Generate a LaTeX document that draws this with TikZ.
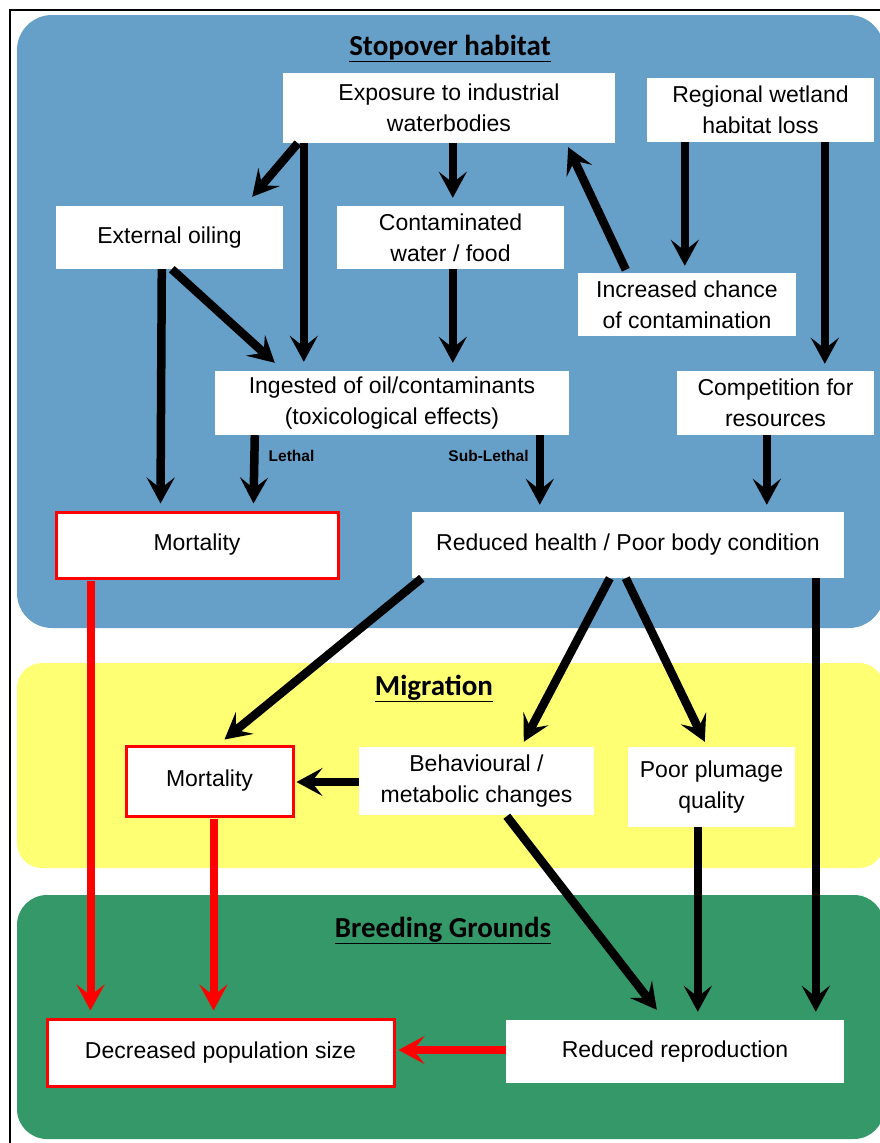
\documentclass[tikz,border=0pt]{standalone}
\usepackage{fontspec}
\setmainfont{Liberation Sans}
\newfontfamily\titlefont{Carlito}
\usetikzlibrary{arrows.meta,calc}
\definecolor{panelblue}{RGB}{102,160,200}
\definecolor{panelyellow}{RGB}{255,255,115}
\definecolor{panelgreen}{RGB}{52,152,104}
\begin{document}
\begin{tikzpicture}[x=1pt,y=-1pt,
  box/.style={fill=white,rectangle,inner sep=0pt,align=center,font=\fontsize{23}{31}\selectfont,text=black},
  redbox/.style={box,draw=red,line width=3pt},
  flow/.style={line width=8.5pt,-{Stealth[length=26pt,width=28pt,inset=11pt]}},
  redflow/.style={flow,line width=8pt,draw=red,color=red},
  lab/.style={font=\bfseries\fontsize{15.5}{18}\selectfont,inner sep=0pt},
  paneltitle/.style={font=\titlefont\bfseries\fontsize{29}{32}\selectfont,anchor=base,inner sep=0pt}]
\useasboundingbox (0,0) rectangle (879,1143);
% panels
\fill[panelblue,rounded corners=35pt] (17,15) rectangle (884,628);
\fill[panelyellow,rounded corners=25pt] (17,663) rectangle (884,868);
\fill[panelgreen,rounded corners=30pt] (17,895) rectangle (884,1139);
% frame
\draw[line width=2pt] (10,1150) -- (10,10) -- (885,10);
% titles
\node[paneltitle] (t1) at (450,55) {\underline{Stopover habitat}};
\node[paneltitle] (t2) at (434,695) {\underline{Migration}};
\node[paneltitle] (t3) at (443,937) {\underline{Breeding Grounds}};
% nodes
\node[box,minimum width=332pt,minimum height=70pt] (expo) at (449,108) {Exposure to industrial\\waterbodies};
\node[box,minimum width=227pt,minimum height=64pt] (regional) at (760.5,110) {Regional wetland\\habitat loss};
\node[box,minimum width=227pt,minimum height=63pt] (extoil) at (169.5,237.5) {External oiling};
\node[box,minimum width=227pt,minimum height=63pt] (contam) at (450.5,237.5) {Contaminated\\water / food};
\node[box,minimum width=218pt,minimum height=63pt] (incr) at (687,304.5) {Increased chance\\of contamination};
\node[box,minimum width=354pt,minimum height=64pt] (ingest) at (392,403) {Ingested of oil/contaminants\\(toxicological effects)};
\node[box,minimum width=197pt,minimum height=64pt] (compet) at (775.5,403) {Competition for\\resources};
\node[redbox,minimum width=282pt,minimum height=66pt] (mort1) at (197,545) {Mortality};
\node[box,minimum width=432pt,minimum height=66pt] (health) at (628,545) {Reduced health / Poor body condition};
\node[redbox,minimum width=167pt,minimum height=70pt] (mort2) at (209.5,781) {Mortality};
\node[box,minimum width=235pt,minimum height=68pt] (behav) at (476.5,781) {Behavioural /\\metabolic changes};
\node[box,minimum width=167pt,minimum height=80pt] (plum) at (711.5,787) {Poor plumage\\quality};
\node[redbox,minimum width=347pt,minimum height=67pt] (decr) at (220.5,1052.5) {Decreased population size};
\node[box,minimum width=338pt,minimum height=63pt] (repro) at (675,1051.5) {Reduced reproduction};
% black connectors
\draw[flow] ($(expo.south west)+(15,0)$) -- ($(extoil.north east)+(-31,-9)$);
\draw[flow] ($(expo.south west)+(21,0)$) -- ($(ingest.north west)+(89,-9)$);
\draw[flow] ($(expo.south west)+(170,0)$) -- ($(contam.north west)+(116,-8)$);
\draw[flow] ($(incr.north west)+(48,-3)$) -- ($(expo.south east)+(-47,4)$);
\draw[flow] ($(regional.south west)+(38,0)$) -- ($(incr.north west)+(107,-7)$);
\draw[flow] ($(regional.south west)+(178,0)$) -- ($(compet.north west)+(148,-7)$);
\draw[flow] ($(extoil.south west)+(106,0)$) -- ($(mort1.north west)+(106,-7)$);
\draw[flow] ($(extoil.south west)+(116,0)$) -- ($(ingest.north west)+(60,-8)$);
\draw[flow] ($(contam.south west)+(116,0)$) -- ($(ingest.north west)+(238,-8)$);
\draw[flow] ($(ingest.south west)+(40,0)$) -- node[lab,pos=0.3,right=10pt] (lethal) {Lethal} ($(mort1.north west)+(199,-7)$);
\draw[flow] ($(ingest.south west)+(325,0)$) -- node[lab,pos=0.3,left=7pt] (sublethal) {Sub-Lethal} ($(health.north west)+(128,-7)$);
\draw[flow] ($(compet.south west)+(90,0)$) -- ($(health.north west)+(355,-7)$);
\draw[flow] ($(health.south west)+(10,0)$) -- ($(mort2.north west)+(100,-5)$);
\draw[flow] ($(health.south west)+(198,0)$) -- ($(behav.north west)+(165,-5)$);
\draw[flow] ($(health.south west)+(214,0)$) -- ($(plum.north west)+(77,-5)$);
\draw[flow] ($(health.south west)+(404,0)$) -- ($(repro.north west)+(310,-8)$);
\draw[flow] ($(behav.west)+(0,1)$) -- ($(mort2.east)+(2,1)$);
\draw[flow] ($(behav.south west)+(148,1)$) -- ($(repro.north west)+(151,-10)$);
\draw[flow] ($(plum.south west)+(70,0)$) -- ($(repro.north west)+(192,-8)$);
% red connectors
\draw[redflow] ($(mort1.south west)+(36,1.5)$) -- ($(decr.north west)+(45,-7)$);
\draw[redflow] ($(mort2.south west)+(89,1.5)$) -- ($(decr.north west)+(168,-7)$);
\draw[redflow] ($(repro.west)+(0,-1.5)$) -- ($(decr.east)+(3,-2.5)$);
\end{tikzpicture}
\end{document}
